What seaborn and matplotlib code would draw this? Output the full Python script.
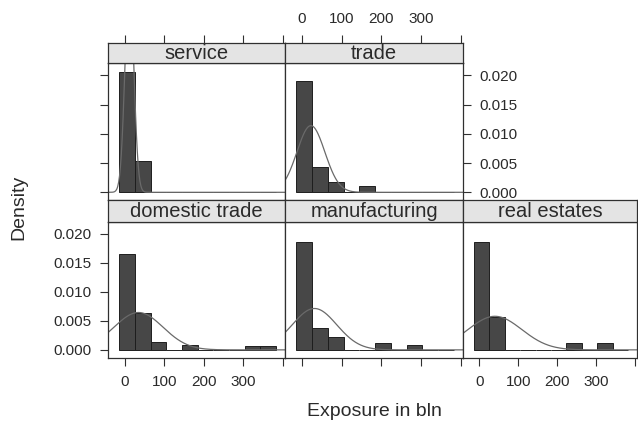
import numpy as np
import seaborn as sns
import matplotlib.pyplot as plt

# panels in lattice order (row, col)
panels = ['service', 'trade', 'domestic trade', 'manufacturing', 'real estates']
grid_pos = [(0, 0), (0, 1), (1, 0), (1, 1), (1, 2)]

# common histogram breaks (bln)
breaks = [-13.5, 26.05, 65.6, 105.15, 144.7, 184.25, 223.8, 263.35, 302.9, 342.45, 382.0]

# bar heights (density), one per bin
service_dens = [0.0206, 0.0053, 0, 0, 0, 0, 0, 0, 0, 0]
trade_dens = [0.0191, 0.0044, 0.0017, 0, 0.0010, 0, 0, 0, 0, 0]
domestic_dens = [0.0165, 0.0064, 0.0013, 0, 0.0009, 0, 0, 0, 0.0006, 0.0006]
manufacturing_dens = [0.0185, 0.0038, 0.0023, 0, 0, 0.0011, 0, 0.0008, 0, 0]
realestate_dens = [0.0185, 0.0057, 0, 0, 0, 0, 0.0011, 0, 0.0011, 0]
all_dens = [service_dens, trade_dens, domestic_dens, manufacturing_dens, realestate_dens]

# fitted normal curve per panel
fit_mean = [12, 23, 35, 32, 40]
fit_sd = [11, 35, 62, 56, 69]

x_ticks = [0, 100, 200, 300, 400]
x_tick_labels = ['0', '100', '200', '300', '']
y_ticks = [0.0, 0.005, 0.010, 0.015, 0.020]
y_tick_labels = ['0.000', '0.005', '0.010', '0.015', '0.020']

W, H = 638, 421
XLIM = (-42, 405)
YLIM = (-0.0014, 0.0221)
cols = [108, 285, 463, 637]
strip_rows = [(42.5, 63), (200.5, 221.5)]
panel_rows = [(63, 200.5), (221.5, 358)]

BAR = '#474747'
EDGE = '#1e1e1e'
FRAME = '#303030'
TXT = '#2a2a2a'


def px_box(x0, y0, x1, y1):
    return [x0 / W, 1 - y1 / H, (x1 - x0) / W, (y1 - y0) / H]


def style_frame(ax):
    for sp in ax.spines.values():
        sp.set_visible(True)
        sp.set_color(FRAME)
        sp.set_linewidth(0.9)
    ax.tick_params(left=False, bottom=False, top=False, right=False,
                   labelleft=False, labelbottom=False, labeltop=False, labelright=False,
                   direction='out', length=6, width=0.8, color=FRAME,
                   labelsize=11, labelcolor=TXT, pad=6)


def main():
    sns.set_style('white')
    plt.rcParams['font.family'] = ['Liberation Sans', 'DejaVu Sans']

    fig = plt.figure(figsize=(W / 100, H / 100), dpi=100)
    centers = [(breaks[i] + breaks[i + 1]) / 2 for i in range(len(breaks) - 1)]
    xs = np.linspace(XLIM[0], XLIM[1], 400)

    for name, (r, c), dens, mu, sd in zip(panels, grid_pos, all_dens, fit_mean, fit_sd):
        ax = fig.add_axes(px_box(cols[c], panel_rows[r][0], cols[c + 1], panel_rows[r][1]))
        sax = fig.add_axes(px_box(cols[c], strip_rows[r][0], cols[c + 1], strip_rows[r][1]))

        sns.histplot(x=centers, weights=dens, bins=breaks, ax=ax, color=BAR,
                     edgecolor=EDGE, linewidth=0.7, alpha=1)
        ys = np.exp(-0.5 * ((xs - mu) / sd) ** 2) / (sd * np.sqrt(2 * np.pi))
        sns.lineplot(x=xs, y=ys, ax=ax, color='#6a6a6a', linewidth=0.9)

        ax.set_xlim(*XLIM)
        ax.set_ylim(*YLIM)
        ax.set_xlabel('')
        ax.set_ylabel('')
        ax.set_facecolor('white')
        style_frame(ax)
        ax.set_xticks(x_ticks)
        ax.set_xticklabels(x_tick_labels)
        ax.set_yticks(y_ticks)
        ax.set_yticklabels(y_tick_labels)

        # strip
        sax.set_xlim(*XLIM)
        sax.set_facecolor('#e4e4e4')
        style_frame(sax)
        sax.set_yticks([])
        sax.set_xticks(x_ticks)
        sax.set_xticklabels(x_tick_labels)
        sax.text(0.5, 0.47, name, ha='center', va='center', transform=sax.transAxes,
                 fontsize=14.5, color=TXT)

        # lattice style alternating axes
        if c == 0:
            ax.tick_params(left=True, labelleft=(r == 1))
        if r == 0:
            sax.tick_params(top=True, labeltop=(c == 1))
        if r == 1:
            ax.tick_params(bottom=True, labelbottom=(c != 1))
        if r == 0 and c == 1:
            ax.tick_params(right=True, labelright=True)

    fig.text(374.7 / W, 1 - 411 / H, 'Exposure in bln', ha='center', va='center',
             fontsize=14, color=TXT)
    fig.text(19 / W, 1 - 207 / H, 'Density', ha='center', va='center', rotation=90,
             fontsize=14, color=TXT)

    fig.savefig('out.png', dpi=100, facecolor='white')
    plt.close(fig)


if __name__ == '__main__':
    main()
